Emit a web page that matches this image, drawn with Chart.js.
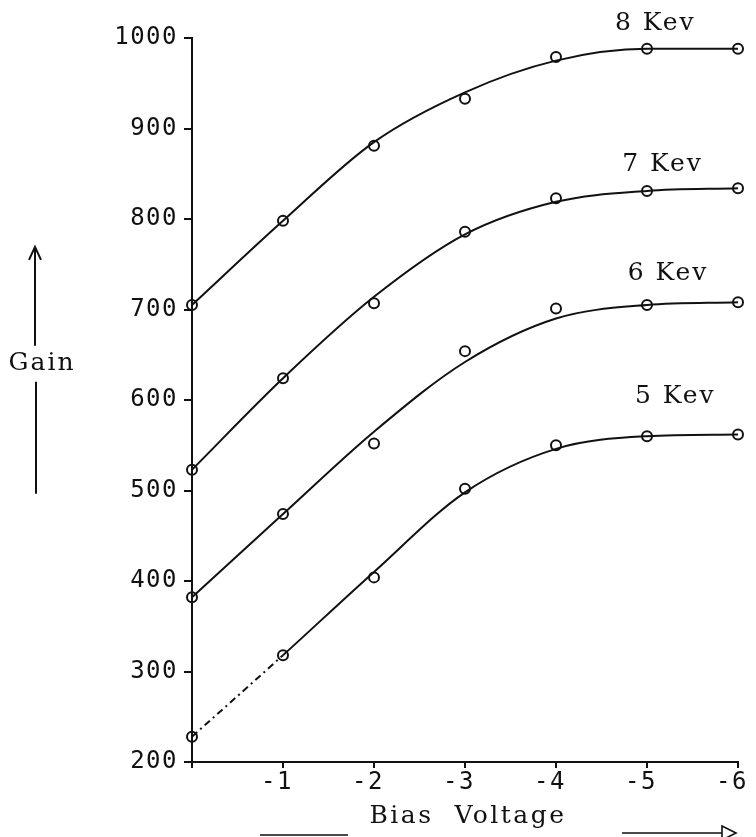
<!DOCTYPE html>
<html>
<head>
<meta charset="utf-8">
<title>Gain vs Bias Voltage</title>
<script src="https://cdn.jsdelivr.net/npm/chart.js@4.4.0/dist/chart.umd.min.js"></script>
<style>
  html, body { margin: 0; padding: 0; background: #fff; }
  canvas { display: block; }
</style>
</head>
<body>
<canvas id="gainChart" width="756" height="837"></canvas>
<script>
// bias voltage steps (x axis)
const biasVolts = [0, -1, -2, -3, -4, -5, -6];

// measured gain at each bias step
const gain8Kev = [705, 798, 881, 933, 979, 988, 988];
const gain7Kev = [523, 624, 707, 786, 823, 831, 834];
const gain6Kev = [382, 474, 552, 654, 701, 705, 708];
const gain5Kev = [228, 318, 404, 502, 550, 560, 562];

// smooth curves drawn through the measurements
const curve8Kev = [705, 798, 885, 940, 975, 988, 988];
const curve7Kev = [523, 624, 714, 783, 819, 831, 834];
const curve6Kev = [382, 474, 565, 642, 690, 705, 708];
const curve5Kev = [228, 318, 410, 498, 546, 560, 562];

const energyNames = ['8 Kev', '7 Kev', '6 Kev', '5 Kev'];
const energyLabelX = [-5.08, -5.16, -5.22, -5.30];
const energyLabelY = [1016, 860, 740, 604];

const gainMin = 200;
const gainMax = 1000;
const gainStep = 100;

const INK = '#111';
const LABEL_FONT = '25px "DejaVu Serif"';

function toPoints(values) {
    return biasVolts.map((v, i) => ({ x: v, y: values[i] }));
}

function curveSet(values, extra) {
    return Object.assign({
        data: toPoints(values),
        showLine: true,
        borderColor: INK,
        borderWidth: 2,
        pointRadius: 0,
        cubicInterpolationMode: 'monotone',
        fill: false,
        clip: false
    }, extra || {});
}

function pointSet(values) {
    return {
        data: toPoints(values),
        showLine: false,
        pointRadius: 5,
        pointBorderWidth: 2,
        pointBorderColor: INK,
        pointBackgroundColor: 'rgba(255,255,255,0)',
        clip: false
    };
}

// labels, axis arrows and titles
const decorations = {
    id: 'decorations',
    beforeDraw(chart) {
        const ctx = chart.ctx;
        ctx.save();
        ctx.fillStyle = '#fff';
        ctx.fillRect(0, 0, chart.width, chart.height);
        ctx.restore();
        ctx.letterSpacing = '1.5px';
    },
    afterDraw(chart) {
        const ctx = chart.ctx;
        const xs = chart.scales.x;
        const ys = chart.scales.y;
        const area = chart.chartArea;

        ctx.save();
        ctx.fillStyle = INK;
        ctx.strokeStyle = INK;
        ctx.textAlign = 'center';
        ctx.textBaseline = 'middle';

        ctx.font = LABEL_FONT;
        ctx.letterSpacing = '2px';
        energyNames.forEach((name, i) => {
            ctx.fillText(name, xs.getPixelForValue(energyLabelX[i]) + 1, ys.getPixelForValue(energyLabelY[i]));
        });

        // y axis title with arrow
        const gx = area.left - 157;
        const gy = ys.getPixelForValue(640);
        ctx.fillText('Gain', gx + 7, gy);
        ctx.lineWidth = 2;
        ctx.beginPath();
        ctx.moveTo(gx, gy - 18);
        ctx.lineTo(gx, gy - 116);
        ctx.moveTo(gx - 6, gy - 104);
        ctx.lineTo(gx, gy - 117);
        ctx.lineTo(gx + 6, gy - 104);
        ctx.moveTo(gx + 1, gy + 18);
        ctx.lineTo(gx + 1, gy + 130);
        ctx.stroke();

        // x axis title with arrow
        const bx = (area.left + area.right) / 2 + 3;
        const by = area.bottom + 54;
        ctx.letterSpacing = '2.5px';
        ctx.fillText('Bias  Voltage', bx, by);
        ctx.lineWidth = 1.6;
        ctx.beginPath();
        ctx.moveTo(bx - 208, by + 19);
        ctx.lineTo(bx - 120, by + 19);
        ctx.moveTo(bx + 154, by + 17);
        ctx.lineTo(bx + 254, by + 17);
        ctx.stroke();
        ctx.beginPath();
        ctx.moveTo(bx + 254, by + 10);
        ctx.lineTo(bx + 268, by + 17);
        ctx.lineTo(bx + 254, by + 24);
        ctx.closePath();
        ctx.stroke();
        ctx.restore();
    }
};

const tickFont = { family: '"DejaVu Sans Mono"', size: 24 };

new Chart(document.getElementById('gainChart'), {
    type: 'scatter',
    data: {
        datasets: [
            curveSet(curve8Kev),
            curveSet(curve7Kev),
            curveSet(curve6Kev),
            curveSet(curve5Kev, {
                segment: {
                    borderDash: c => c.p0DataIndex === 0 ? [7, 4, 2, 4] : undefined
                }
            }),
            pointSet(gain8Kev),
            pointSet(gain7Kev),
            pointSet(gain6Kev),
            pointSet(gain5Kev)
        ]
    },
    options: {
        responsive: false,
        animation: false,
        layout: { padding: { top: 38, right: 18, left: 0, bottom: 0 } },
        plugins: {
            legend: { display: false },
            tooltip: { enabled: false }
        },
        scales: {
            x: {
                type: 'linear',
                reverse: true,
                min: -6,
                max: 0,
                afterFit: s => { s.height = 75; },
                border: { display: true, color: INK, width: 2 },
                grid: { drawOnChartArea: false, drawTicks: true, tickLength: 6, tickColor: INK, lineWidth: 2 },
                ticks: {
                    stepSize: 1,
                    color: INK,
                    font: tickFont,
                    padding: 0,
                    labelOffset: -6,
                    maxRotation: 0,
                    callback: v => v === 0 ? '' : String(v)
                }
            },
            y: {
                type: 'linear',
                min: gainMin,
                max: gainMax,
                afterFit: s => { s.width = 192; },
                border: { display: true, color: INK, width: 2 },
                grid: { drawOnChartArea: false, drawTicks: true, tickLength: 8, tickColor: INK, lineWidth: 2 },
                ticks: {
                    stepSize: gainStep,
                    color: INK,
                    font: tickFont,
                    padding: 6,
                    callback: v => String(v)
                }
            }
        }
    },
    plugins: [decorations]
});
</script>
</body>
</html>
